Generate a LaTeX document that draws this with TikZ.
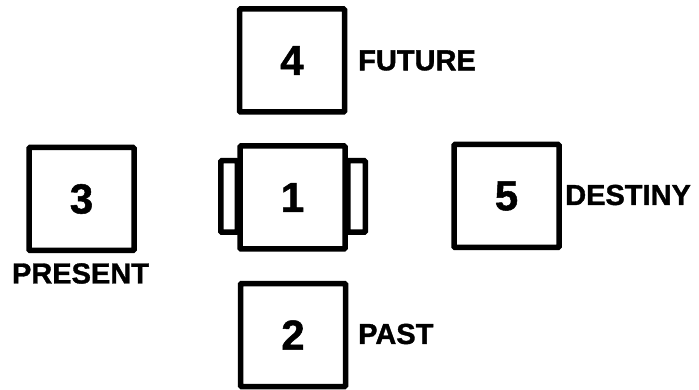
\documentclass[tikz,border=0pt]{standalone}
\usepackage{fontspec}
\setmainfont{Liberation Sans}[BoldFeatures={FakeBold=1.2}]
\begin{document}
\begin{tikzpicture}[x=1pt,y=-1pt,
  card/.style={draw=black,line width=5.5pt,fill=white,rounded corners=1pt,minimum width=105pt,minimum height=103pt,inner sep=0pt,font=\fontsize{42}{42}\selectfont\bfseries},
  tab/.style={draw=black,line width=5.5pt,fill=white,rounded corners=1pt,inner sep=0pt,minimum height=71.5pt},
  lbl/.style={inner sep=0pt,font=\fontsize{29}{29}\selectfont\bfseries}]
\useasboundingbox (0,0) rectangle (699,390);
% side tabs of card 1
\node[tab,minimum width=16.5pt] (tabL) at (229,196.5) {};
\node[tab,minimum width=17.5pt] (tabR) at (356.5,196.5) {};
% cards
\node[card] (c4) at (292,60.5) {4};
\node[card] (c1) at (292.5,197.5) {1};
\node[card] (c3) at (81.5,199) {3};
\node[card] (c5) at (506.5,196) {5};
\node[card] (c2) at (293,335) {2};
% labels
\node[lbl,anchor=west] (lf) at (358,60.5) {FUTURE};
\node[lbl,anchor=west] (lp) at (358,334) {PAST};
\node[lbl,anchor=west] (ld) at (565,195) {DESTINY};
\node[lbl] (lpr) at (80.5,273.5) {PRESENT};
\end{tikzpicture}
\end{document}
